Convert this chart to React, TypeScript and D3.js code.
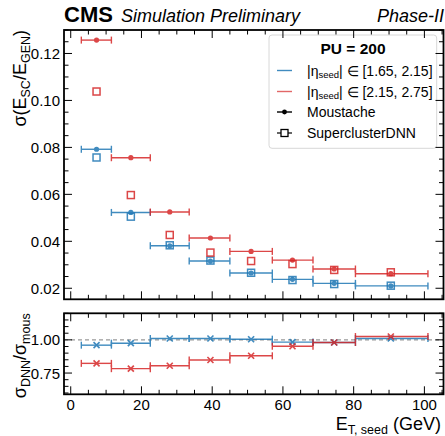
import React from "react";
import * as d3 from "d3";

const binEdges = [3, 11.5, 22.5, 33.5, 45, 57, 68.5, 80.5, 101];
const binCenters = [7.3, 17, 28, 39.5, 51, 62.7, 74.5, 90.5];
const mousLow = [0.0792, 0.0523, 0.0381, 0.0316, 0.0265, 0.0238, 0.0221, 0.021];
const dnnLow = [0.0757, 0.0505, 0.0383, 0.0318, 0.0266, 0.0235, 0.0218, 0.0211];
const mousHigh = [0.1257, 0.0756, 0.0525, 0.0414, 0.0357, 0.032, 0.0282, 0.0262];
const dnnHigh = [0.1038, 0.0597, 0.0427, 0.0352, 0.0316, 0.0303, 0.0278, 0.0268];
const ratioLow = [0.96, 0.975, 1.01, 1.01, 1.005, 0.983, 0.98, 1.01];
const ratioHigh = [0.823, 0.783, 0.805, 0.848, 0.88, 0.952, 0.98, 1.025];
const xTicks = [0, 20, 40, 60, 80, 100];
const yMainTicks = [0.02, 0.04, 0.06, 0.08, 0.1, 0.12];
const yRatioTicks = [0.75, 1.0];

const BLUE = "#1f77b4";
const RED = "#d62728";
const FONT = "'Liberation Sans', Arial, Helvetica, sans-serif";

const W = 445;
const H = 436;
const L = 64;
const R = 443.5;
const mainTop = 30;
const mainBot = 299.3;
const ratTop = 313.3;
const ratBot = 394.3;

const x = d3.scaleLinear().domain([-1.9, 105.4]).range([L, R]);
const yMain = d3.scaleLinear().domain([0.0153, 0.13]).range([mainBot, mainTop]);
const yRat = d3.scaleLinear().domain([0.59, 1.2]).range([ratBot, ratTop]);

function range(a: number, b: number, s: number) {
  const out: number[] = [];
  for (let v = Math.ceil(a / s - 1e-9) * s; v <= b + 1e-9; v += s) out.push(+v.toFixed(6));
  return out;
}

const MAJ = 8;
const MIN = 4.5;

function Frame({ top, bot, y, yMajor, yMinorStep }: any) {
  const [y0, y1] = y.domain();
  const xMin = range(-1.9, 105.4, 5);
  const yMin = range(y0, y1, yMinorStep);
  const els: any[] = [];
  xMin.forEach((v, i) => {
    const len = xTicks.includes(v) ? MAJ : MIN;
    const px = x(v);
    els.push(<line key={"xb" + i} x1={px} x2={px} y1={bot} y2={bot - len} />);
    els.push(<line key={"xt" + i} x1={px} x2={px} y1={top} y2={top + len} />);
  });
  yMin.forEach((v, i) => {
    const len = yMajor.some((m: number) => Math.abs(m - v) < 1e-6) ? MAJ : MIN;
    const py = y(v);
    els.push(<line key={"yl" + i} x1={L} x2={L + len} y1={py} y2={py} />);
    els.push(<line key={"yr" + i} x1={R} x2={R - len} y1={py} y2={py} />);
  });
  return (
    <g stroke="#000" strokeWidth={1}>
      {els}
      <rect x={L} y={top} width={R - L} height={bot - top} fill="none" strokeWidth={1.8} />
    </g>
  );
}

function ErrBars({ vals, y, color, marker }: any) {
  return (
    <g stroke={color} fill={color} strokeWidth={1.4} opacity={0.85}>
      {vals.map((v: number, i: number) => {
        const yy = y(v);
        const x0 = x(binEdges[i]);
        const x1 = x(binEdges[i + 1]);
        const cx = x(binCenters[i]);
        return (
          <g key={i}>
            <line x1={x0} x2={x1} y1={yy} y2={yy} />
            <line x1={x0} x2={x0} y1={yy - 3.5} y2={yy + 3.5} />
            <line x1={x1} x2={x1} y1={yy - 3.5} y2={yy + 3.5} />
            {marker === "dot" ? (
              <circle cx={cx} cy={yy} r={2.6} stroke="none" />
            ) : (
              <g strokeWidth={1.6}>
                <line x1={cx - 3} x2={cx + 3} y1={yy - 3} y2={yy + 3} />
                <line x1={cx - 3} x2={cx + 3} y1={yy + 3} y2={yy - 3} />
              </g>
            )}
          </g>
        );
      })}
    </g>
  );
}

function Squares({ vals, color }: any) {
  return (
    <g stroke={color} fill="none" strokeWidth={1.5} opacity={0.85}>
      {vals.map((v: number, i: number) => (
        <rect key={i} x={x(binCenters[i]) - 3.5} y={yMain(v) - 3.5} width={7} height={7} />
      ))}
    </g>
  );
}

export default function App() {
  const legX = 269;
  const legRows = [70.5, 91.5, 112, 133];
  return (
    <svg
      width={W}
      height={H}
      style={{ position: "absolute", left: 0, top: 0, background: "#fff" }}
      fontFamily={FONT}
    >
      {/* title */}
      <text x={64} y={22} fontSize={22} fontWeight="bold">CMS</text>
      <text x={121} y={22} fontSize={18} fontStyle="italic">Simulation Preliminary</text>
      <text x={444} y={22} fontSize={18} fontStyle="italic" textAnchor="end">Phase-II</text>

      {/* main data */}
      <ErrBars vals={mousLow} y={yMain} color={BLUE} marker="dot" />
      <ErrBars vals={mousHigh} y={yMain} color={RED} marker="dot" />
      <Squares vals={dnnLow} color={BLUE} />
      <Squares vals={dnnHigh} color={RED} />

      {/* legend */}
      <rect x={legX} y={35} width={436.7 - legX} height={148.3 - 35} rx={3} fill="#fff" fillOpacity={0.85} stroke="#d8d8d8" strokeWidth={1} />
      <text x={353} y={54} fontSize={15.5} fontWeight="bold" textAnchor="middle">PU = 200</text>
      <line x1={277} x2={292} y1={legRows[0]} y2={legRows[0]} stroke={BLUE} strokeWidth={1.4} opacity={0.85} />
      <line x1={277} x2={292} y1={legRows[1]} y2={legRows[1]} stroke={RED} strokeWidth={1.4} opacity={0.7} />
      <line x1={277} x2={292} y1={legRows[2]} y2={legRows[2]} stroke="#000" strokeWidth={1.4} />
      <circle cx={284.5} cy={legRows[2]} r={2.4} fill="#000" />
      <line x1={277} x2={292} y1={legRows[3]} y2={legRows[3]} stroke="#000" strokeWidth={1.2} />
      <rect x={281} y={legRows[3] - 3.5} width={7} height={7} fill="#fff" stroke="#000" strokeWidth={1.3} />
      {[["1.65, 2.15"], ["2.15, 2.75"]].map((r, i) => (
        <text key={i} x={307} y={legRows[i] + 5} fontSize={14}>
          |η<tspan fontSize={9.5} dy={2.5}>seed</tspan><tspan dy={-2.5}>| ∈ [{r[0]}]</tspan>
        </text>
      ))}
      <text x={307} y={legRows[2] + 5} fontSize={14}>Moustache</text>
      <text x={307} y={legRows[3] + 5} fontSize={14}>SuperclusterDNN</text>

      <Frame top={mainTop} bot={mainBot} y={yMain} yMajor={yMainTicks} yMinorStep={0.005} />
      {yMainTicks.map((t) => (
        <text key={t} x={60} y={yMain(t) + 5.5} fontSize={15} textAnchor="end">{t.toFixed(2)}</text>
      ))}

      {/* ratio panel */}
      <line x1={L} x2={R} y1={yRat(1)} y2={yRat(1)} stroke="#999" strokeWidth={1.2} strokeDasharray="4,3" />
      <ErrBars vals={ratioLow} y={yRat} color={BLUE} marker="x" />
      <ErrBars vals={ratioHigh} y={yRat} color={RED} marker="x" />
      <Frame top={ratTop} bot={ratBot} y={yRat} yMajor={yRatioTicks} yMinorStep={0.05} />
      {yRatioTicks.map((t) => (
        <text key={t} x={60} y={yRat(t) + 5.5} fontSize={15} textAnchor="end">{t.toFixed(2)}</text>
      ))}
      {xTicks.map((t) => (
        <text key={t} x={x(t)} y={410} fontSize={15} textAnchor="middle">{t}</text>
      ))}

      {/* axis labels */}
      <text x={441} y={429.5} fontSize={18} textAnchor="end">
        E<tspan fontSize={12.5} dy={4}>T, seed</tspan><tspan dy={-4}> (GeV)</tspan>
      </text>
      <text transform={`translate(25.5,${mainTop}) rotate(-90)`} fontSize={18} textAnchor="end">
        σ(E<tspan fontSize={12.5} dy={4}>SC</tspan><tspan dy={-4}>/E</tspan><tspan fontSize={12.5} dy={4}>GEN</tspan><tspan dy={-4}>)</tspan>
      </text>
      <text transform={`translate(25.5,${ratTop}) rotate(-90)`} fontSize={18} textAnchor="end">
        σ<tspan fontSize={12.5} dy={4}>DNN</tspan><tspan dy={-4}>/σ</tspan><tspan fontSize={12.5} dy={4}>mous</tspan>
      </text>
    </svg>
  );
}
